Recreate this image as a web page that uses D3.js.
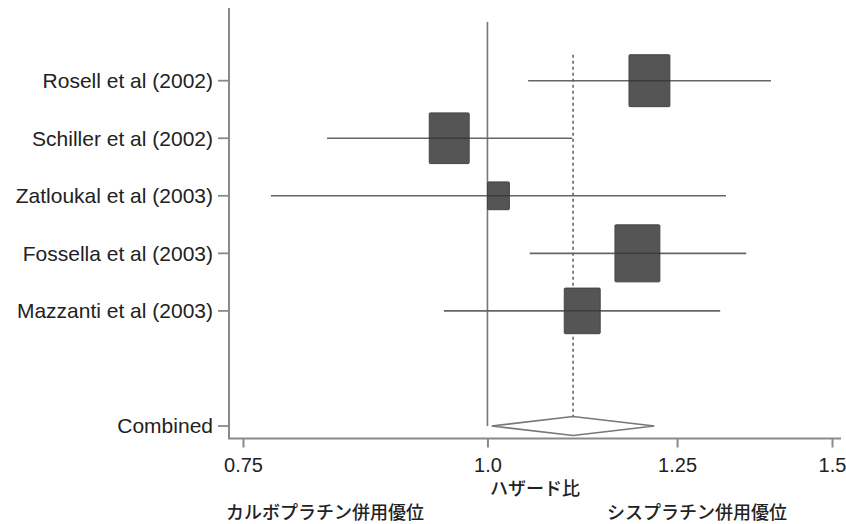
<!DOCTYPE html>
<html><head><meta charset="utf-8">
<script src="https://cdn.jsdelivr.net/npm/d3@7"></script>
<style>
html,body{margin:0;padding:0;background:#fff;}
svg{display:block;}
</style></head>
<body>
<svg id="chart" width="846" height="524"></svg>
<script>
const studies = ["Rosell et al (2002)", "Schiller et al (2002)", "Zatloukal et al (2003)", "Fossella et al (2003)", "Mazzanti et al (2003)"];
const hazardRatio = [1.210, 0.956, 1.013, 1.193, 1.118];
const ciLow = [1.049, 0.828, 0.775, 1.051, 0.950];
const ciHigh = [1.396, 1.105, 1.324, 1.356, 1.315];
const weights = [23.7, 22.6, 6.8, 28.6, 18.3];
const combinedLabel = "Combined";
const combined = [1.005, 1.106, 1.217];
const tickValues = [0.75, 1.0, 1.25, 1.5];
const tickLabels = ["0.75", "1.0", "1.25", "1.5"];
const xTitle = "ハザード比";
const favourLeft = "カルボプラチン併用優位";
const favourRight = "シスプラチン併用優位";

const svg = d3.select("#chart");
const latin = "'Liberation Sans', Arial, Helvetica, sans-serif";
const cjk = "'Noto Sans CJK JP', 'Noto Sans CJK SC', sans-serif";
const textCol = "#222";

const axisLeftX = 229, axisTop = 8, axisBottomY = 438.5, axisRightX = 841;

const x = d3.scaleLog().domain([0.75, 1.5]).range([243, 832]);
const y = d3.scaleLinear().domain([0, 6]).range([80.7, 426]);
const rowIdx = studies.map((d, i) => i);
const combinedIdx = 6;

const size = d3.scaleSqrt().domain([0, 30]).range([0, 46]);

// axes lines
svg.append("line").attr("x1", axisLeftX).attr("x2", axisLeftX).attr("y1", axisTop).attr("y2", axisBottomY)
  .attr("stroke", "#8a8a8a").attr("stroke-width", 2);
svg.append("line").attr("x1", axisLeftX - 1).attr("x2", axisRightX).attr("y1", axisBottomY).attr("y2", axisBottomY)
  .attr("stroke", "#8a8a8a").attr("stroke-width", 2);

// x axis ticks
const xAxis = d3.axisBottom(x).tickValues(tickValues).tickFormat((d, i) => tickLabels[i]).tickSize(9).tickPadding(10);
const gx = svg.append("g").attr("transform", `translate(0,${axisBottomY})`).call(xAxis);
gx.select(".domain").remove();
gx.selectAll(".tick line").attr("stroke", "#8a8a8a").attr("stroke-width", 2);
gx.selectAll(".tick text").attr("fill", textCol).style("font-family", latin).style("font-size", "20px");

// y axis ticks
const yLabels = studies.concat([combinedLabel]);
const yPos = rowIdx.concat([combinedIdx]);
const gy = svg.append("g");
gy.selectAll("line.yt").data(yPos).join("line").attr("class", "yt")
  .attr("x1", axisLeftX - 11).attr("x2", axisLeftX).attr("y1", d => y(d)).attr("y2", d => y(d))
  .attr("stroke", "#8a8a8a").attr("stroke-width", 1.8);
gy.selectAll("text").data(yLabels).join("text")
  .attr("x", axisLeftX - 16).attr("y", (d, i) => y(yPos[i])).attr("dy", "0.35em")
  .attr("text-anchor", "end").attr("fill", textCol)
  .style("font-family", latin).style("font-size", "21px").text(d => d);

// null line at 1.0
svg.append("line").attr("x1", x(1)).attr("x2", x(1)).attr("y1", 22).attr("y2", y(combinedIdx))
  .attr("stroke", "#777").attr("stroke-width", 1.6);

// dashed line at combined estimate
const topBoxY = y(0) - size(weights[0]) * 1.27 / 2;
svg.append("line").attr("x1", x(combined[1])).attr("x2", x(combined[1]))
  .attr("y1", topBoxY).attr("y2", y(combinedIdx) - 9.5)
  .attr("stroke", "#666").attr("stroke-width", 1.6).attr("stroke-dasharray", "3,3");

// CI lines
svg.selectAll("line.ci").data(rowIdx).join("line").attr("class", "ci")
  .attr("x1", i => x(ciLow[i])).attr("x2", i => x(ciHigh[i]))
  .attr("y1", i => y(i)).attr("y2", i => y(i))
  .attr("stroke", "#666").attr("stroke-width", 1.6);

// boxes
svg.selectAll("rect.box").data(rowIdx).join("rect").attr("class", "box")
  .attr("x", i => x(hazardRatio[i]) - size(weights[i]) / 2)
  .attr("y", i => y(i) - size(weights[i]) * 1.27 / 2)
  .attr("width", i => size(weights[i]))
  .attr("height", i => size(weights[i]) * 1.27)
  .attr("fill", "#555").attr("stroke", "#444").attr("stroke-width", 1).attr("rx", 1);

// CI lines over boxes (faint)
svg.selectAll("line.ci2").data(rowIdx).join("line").attr("class", "ci2")
  .attr("x1", i => x(hazardRatio[i]) - size(weights[i]) / 2).attr("x2", i => x(hazardRatio[i]) + size(weights[i]) / 2)
  .attr("y1", i => y(i)).attr("y2", i => y(i))
  .attr("stroke", "#3a3a3a").attr("stroke-width", 1.4);

// diamond
const cy = y(combinedIdx);
const diamond = [[x(combined[0]), cy], [x(combined[1]), cy - 9.5], [x(combined[2]), cy], [x(combined[1]), cy + 9.5]];
svg.append("path").attr("d", d3.line()(diamond) + "Z")
  .attr("fill", "#fff").attr("stroke", "#777").attr("stroke-width", 1.6);

// titles
const midX = (axisLeftX + axisRightX) / 2;
svg.append("text").attr("x", midX).attr("y", 495).attr("text-anchor", "middle").attr("fill", textCol)
  .style("font-family", cjk).style("font-size", "18px").style("font-weight", 500).text(xTitle);
svg.append("text").attr("x", 325).attr("y", 519).attr("text-anchor", "middle").attr("fill", textCol)
  .style("font-family", cjk).style("font-size", "18px").style("font-weight", 500).text(favourLeft);
svg.append("text").attr("x", 697).attr("y", 519).attr("text-anchor", "middle").attr("fill", textCol)
  .style("font-family", cjk).style("font-size", "18px").style("font-weight", 500).text(favourRight);
</script>
</body></html>
